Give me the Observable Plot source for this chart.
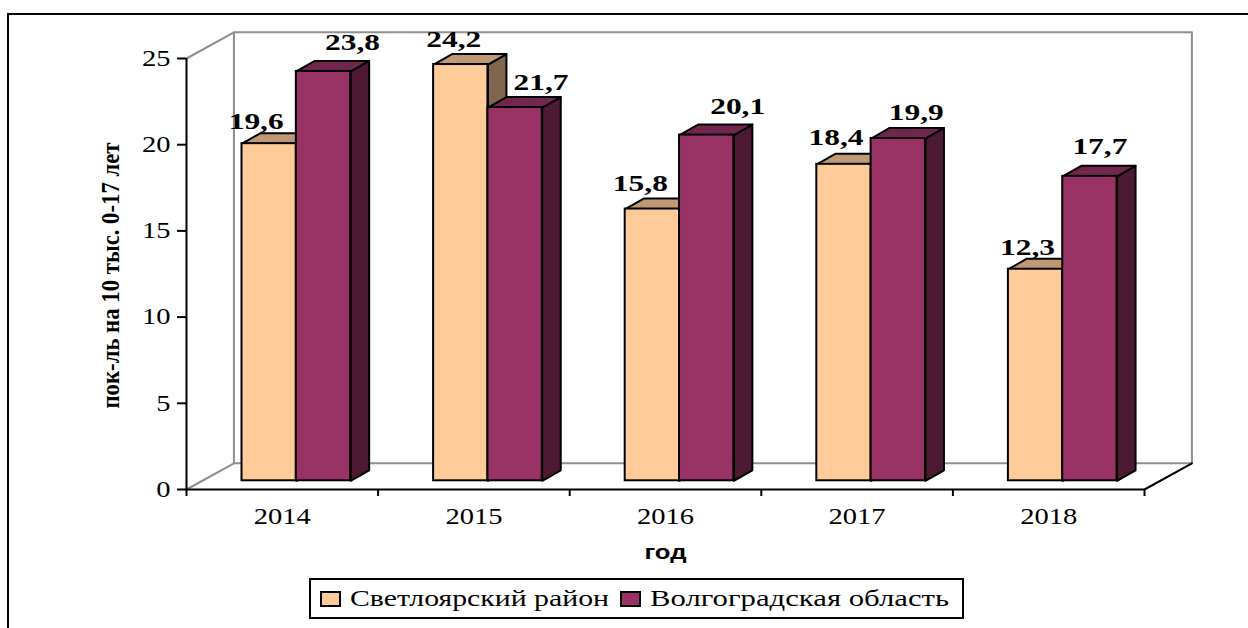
<!DOCTYPE html>
<html lang="ru">
<head>
<meta charset="utf-8">
<script src="https://cdn.jsdelivr.net/npm/d3@7"></script>
<script src="https://cdn.jsdelivr.net/npm/@observablehq/plot@0.6"></script>
<style>
html,body{margin:0;padding:0;background:#fff;overflow:hidden}
#page{position:relative;width:1248px;height:628px;overflow:hidden}
#edge{position:absolute;left:7px;top:13px;right:-4px;bottom:-4px;border-left:2px solid #000;border-top:2px solid #000;pointer-events:none}
#legend{position:absolute;left:309px;top:578px;width:651px;height:37px;border:2px solid #000;background:#fff;font-family:"Liberation Serif",serif;font-size:24px;color:#000}
#legend i{position:absolute;top:11px;width:17px;height:12px;border:2px solid #000;display:block}
#legend span{position:absolute;top:5px;white-space:nowrap;transform-origin:0 50%}
</style>
</head>
<body>
<div id="page">
  <div id="chart"></div>
  <div id="edge"></div>
  <div id="legend"></div>
</div>
<script>
const years = ["2014", "2015", "2016", "2017", "2018"];
const seriesNames = ["Светлоярский район", "Волгоградская область"];
const svetloyarsk = [19.6, 24.2, 15.8, 18.4, 12.3];
const volgograd = [23.8, 21.7, 20.1, 19.9, 17.7];
const yTicks = [0, 5, 10, 15, 20, 25];
const yTitle = "пок-ль на 10 тыс. 0-17 лет";
const xTitle = "год";

// Chart styling and layout of the pseudo-3D look
const faceColors = [
  {front: "#FFCC99", top: "#BF9973", side: "#80664D"},
  {front: "#993366", top: "#73264D", side: "#4D1A33"}
];
const wallDepthX = 0.2475, wallDepthY = 1.52;
const barStart = 0.2897, barWidth = 0.2835;
const barDepthX = 0.0966, barDepthY = 0.61;
const barBase = 0.505, barSlope = 0.9977;
const labelNudges = [
  [[-13,-15],[-7,-18],[-12,-18],[-8,-19],[-8,-14]],
  [[29,-21],[26,-18],[31,-21],[18,-19],[10,-22]]
];

const valueText = v => v.toFixed(1).replace(".", ",");
const wallX0 = wallDepthX, wallX1 = years.length + wallDepthX;
const wallTop = 25 + wallDepthY;
const wallStyle = {x: "x", y: "y", stroke: "#8f8f8f", strokeWidth: 2};
const pts = (...a) => a.map(([x, y]) => ({x, y}));

const walls = [
  Plot.line(pts([0, 25], [wallX0, wallTop], [wallX1, wallTop], [wallX1, wallDepthY], [wallX0, wallDepthY], [wallX0, wallTop]), wallStyle),
  Plot.line(pts([0, 0], [wallX0, wallDepthY]), wallStyle),
  Plot.line(pts([years.length, 0], [wallX1, wallDepthY]), {x: "x", y: "y", stroke: "#000", strokeWidth: 2})
];

const faceStyle = fill => ({x: "x", y: "y", fill, stroke: "#000", strokeWidth: 2});
const bars = [svetloyarsk, volgograd].flatMap((vals, s) => vals.map((v, i) => ({v, i, s})));
bars.sort((a, b) => a.i - b.i || a.s - b.s);
const barMarks = bars.flatMap(({v, i, s}) => {
  const x1 = i + barStart + s * barWidth, x2 = x1 + barWidth;
  const y1 = barBase, y2 = barBase + barSlope * v;
  const c = faceColors[s];
  return [
    Plot.line(pts([x2, y1], [x2 + barDepthX, y1 + barDepthY], [x2 + barDepthX, y2 + barDepthY], [x2, y2], [x2, y1]), faceStyle(c.side)),
    Plot.line(pts([x1, y2], [x1 + barDepthX, y2 + barDepthY], [x2 + barDepthX, y2 + barDepthY], [x2, y2], [x1, y2]), faceStyle(c.top)),
    Plot.rect([{x1, x2, y1, y2}], {x1: "x1", x2: "x2", y1: "y1", y2: "y2", fill: c.front, stroke: "#000", strokeWidth: 2})
  ];
});

const labelMarks = bars.map(({v, i, s}) => Plot.text([valueText(v)], {
  x: i + barStart + s * barWidth + barWidth / 2,
  y: barBase + barSlope * v,
  text: d => d,
  dx: labelNudges[s][i][0],
  dy: labelNudges[s][i][1],
  lineAnchor: "bottom",
  fontSize: 24,
  fontWeight: "bold",
  className: "value-label"
}));

const chart = Plot.plot({
  width: 1248,
  height: 628,
  marginLeft: 186,
  marginRight: 104,
  marginTop: 58,
  marginBottom: 139,
  style: {fontFamily: "'Liberation Serif', serif", background: "#fff", color: "#000"},
  x: {domain: [0, years.length]},
  y: {domain: [0, 25]},
  marks: [
    ...walls,
    Plot.ruleX([0], {y1: 0, y2: 25, stroke: "#000", strokeWidth: 2}),
    Plot.ruleY([0], {x1: 0, x2: years.length, stroke: "#000", strokeWidth: 2}),
    Plot.axisY({ticks: yTicks, tickSize: 9, tickPadding: 7, strokeWidth: 2, fontSize: 23, label: null, className: "tick-labels"}),
    Plot.axisX({ticks: d3.range(years.length + 1), tickSize: 7, strokeWidth: 2, tickFormat: () => "", label: null}),
    Plot.axisX({ticks: years.map((_, i) => i + 0.5), tickSize: 0, tickPadding: 18, fontSize: 23,
      tickFormat: d => years[Math.floor(d)], label: null, className: "tick-labels"}),
    ...barMarks,
    ...labelMarks,
    Plot.text([yTitle], {frameAnchor: "left", dx: -68, dy: 1.5, rotate: -90, lineAnchor: "bottom", textAnchor: "middle",
      fontSize: 26, fontWeight: "bold", className: "y-title"}),
    Plot.text([xTitle], {x: years.length / 2, y: 0, dy: 69, lineAnchor: "bottom", fontSize: 20, fontWeight: "bold",
      fontFamily: "'Liberation Sans', sans-serif", className: "x-title"})
  ]
});
document.getElementById("chart").append(chart);

// Legend: HTML below the plot area
const legend = d3.select("#legend");
const legendX = [[9, 39, 259], [309, 339, 299]];
seriesNames.forEach((name, s) => {
  const [sx, tx, tw] = legendX[s];
  legend.append("i").style("left", sx + "px").style("background", faceColors[s].front);
  const span = legend.append("span").style("left", tx + "px").text(name);
  const w = span.node().getBoundingClientRect().width;
  span.style("transform", `scaleX(${tw / w})`);
});

// The reference's text is horizontally stretched: fit each text to its measured length
const fit = (sel, f) => d3.select(chart).selectAll(sel).each(function () {
  const len = f(this);
  this.setAttribute("textLength", len);
  this.setAttribute("lengthAdjust", "spacingAndGlyphs");
});
fit(".tick-labels text", t => t.getComputedTextLength() * 1.24);
fit(".value-label text", () => 55);
fit(".y-title text", () => 266);
fit(".x-title text", () => 42);
</script>
</body>
</html>
